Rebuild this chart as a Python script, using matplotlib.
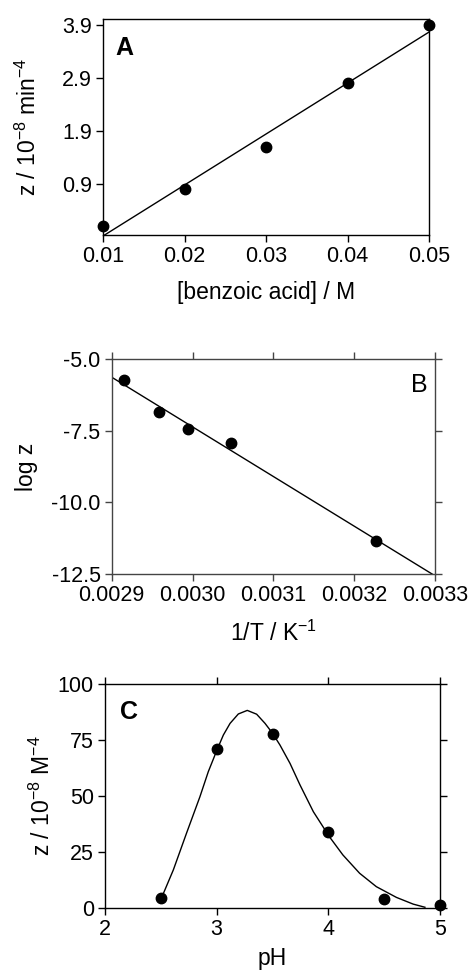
import numpy as np
import matplotlib
matplotlib.use("Agg")
import matplotlib.pyplot as plt
from matplotlib.ticker import FixedLocator, FormatStrFormatter

plt.rcParams['font.family'] = ['Liberation Sans', 'DejaVu Sans']
plt.rcParams['axes.unicode_minus'] = False
plt.rcParams['mathtext.fontset'] = 'custom'
plt.rcParams['mathtext.rm'] = 'Liberation Sans'
plt.rcParams['mathtext.default'] = 'regular'

# Panel A data
acid_conc = [0.01, 0.02, 0.03, 0.04, 0.05]
z_acid = [0.095, 0.79, 1.59, 2.80, 3.90]
a_xticks = [0.01, 0.02, 0.03, 0.04, 0.05]
a_yticks = [0.9, 1.9, 2.9, 3.9]

# Panel B data
inv_T = [0.0029156, 0.0029585, 0.002994, 0.003048, 0.003227]
log_z = [-5.73, -6.84, -7.44, -7.94, -11.33]
b_xticks = [0.0029, 0.0030, 0.0031, 0.0032, 0.0033]
b_yticks = [-5.0, -7.5, -10.0, -12.5]

# Panel C data
pH = [2.5, 3.0, 3.5, 4.0, 4.5, 5.0]
z_pH = [4.2, 70.8, 77.8, 33.8, 3.7, 1.0]
pH_curve = [2.508, 2.612, 2.73, 2.85, 2.925, 3.006, 3.06, 3.12, 3.194, 3.274,
            3.358, 3.433, 3.50, 3.567, 3.657, 3.746, 3.866, 4.01, 4.13, 4.28,
            4.43, 4.61, 4.76, 4.865]
z_curve = [4.6, 16.9, 33.3, 49.6, 60.8, 70.9, 77.2, 82.4, 86.6, 88.2,
           86.5, 82.4, 78.0, 72.7, 64.5, 54.9, 42.9, 31.7, 23.6, 15.4,
           9.4, 4.6, 1.6, 0.2]
c_xticks = [2, 3, 4, 5]
c_yticks = [0, 25, 50, 75, 100]

W, H = 470, 975
fig = plt.figure(figsize=(W / 100, H / 100), dpi=100)

def add_ax(l, r, t, b):
    return fig.add_axes([l / W, 1 - b / H, (r - l) / W, (b - t) / H])

TICK_FS = 15.5
LAB_FS = 16.5
MS = 7.5
LW = 1.0

def style(ax, color, right_top_ticks):
    for s in ax.spines.values():
        s.set_color(color)
        s.set_linewidth(1.0)
    ax.tick_params(direction='out', length=5, width=1.0, color=color,
                   labelsize=TICK_FS, pad=3)
    if right_top_ticks:
        ax.tick_params(top=True, right=True, labeltop=False, labelright=False)

# Panel A
axA = add_ax(103, 429, 19.3, 235)
axA.set_xlim(0.01, 0.05)
axA.set_ylim(-0.07, 4.0)
coefA = np.polyfit(acid_conc, z_acid, 1)
xl = np.array([0.01, 0.05])
axA.plot(xl, np.polyval(coefA, xl), color='black', lw=LW)
axA.plot(acid_conc, z_acid, 'o', color='black', ms=MS, clip_on=False, zorder=5)
axA.xaxis.set_major_locator(FixedLocator(a_xticks))
axA.yaxis.set_major_locator(FixedLocator(a_yticks))
axA.xaxis.set_major_formatter(FormatStrFormatter('%.2f'))
axA.yaxis.set_major_formatter(FormatStrFormatter('%.1f'))
style(axA, 'black', False)
axA.set_xlabel('[benzoic acid] / M', fontsize=LAB_FS, va='center')
axA.set_ylabel('z / 10$^{-8}$ min$^{-4}$', fontsize=LAB_FS, va='center')
axA.xaxis.set_label_coords(0.5, (235 - 292) / 215.7)
axA.yaxis.set_label_coords((28 - 103) / 326, 0.5)
axA.text(0.037, 0.865, 'A', transform=axA.transAxes, fontsize=18,
         fontweight='bold', ha='left', va='center')

# Panel B
axB = add_ax(111.7, 435, 359.3, 574)
axB.set_xlim(0.0029, 0.0033)
axB.set_ylim(-12.5, -5.0)
coefB = np.polyfit(inv_T, log_z, 1)
xl = np.array([0.0029, 0.0033])
axB.plot(xl, np.polyval(coefB, xl), color='black', lw=LW)
axB.plot(inv_T, log_z, 'o', color='black', ms=MS, clip_on=False, zorder=5)
axB.xaxis.set_major_locator(FixedLocator(b_xticks))
axB.yaxis.set_major_locator(FixedLocator(b_yticks))
axB.xaxis.set_major_formatter(FormatStrFormatter('%.4f'))
axB.yaxis.set_major_formatter(FormatStrFormatter('%.1f'))
style(axB, '#444444', True)
axB.set_xlabel('1/T / K$^{-1}$', fontsize=LAB_FS, va='center')
axB.set_ylabel('log z', fontsize=LAB_FS, va='center')
axB.xaxis.set_label_coords(0.5, (574 - 633) / 214.7)
axB.yaxis.set_label_coords((27 - 111.7) / 323.3, 0.5)
axB.text(0.978, 0.88, 'B', transform=axB.transAxes, fontsize=18,
         ha='right', va='center')

# Panel C
axC = add_ax(105, 440, 684, 907.7)
axC.set_xlim(2, 5)
axC.set_ylim(0, 100)
axC.plot(pH_curve, z_curve, color='black', lw=LW, solid_joinstyle='round')
axC.plot(pH, z_pH, 'o', color='black', ms=MS, clip_on=False, zorder=5)
axC.xaxis.set_major_locator(FixedLocator(c_xticks))
axC.yaxis.set_major_locator(FixedLocator(c_yticks))
style(axC, 'black', True)
axC.set_xlabel('pH', fontsize=LAB_FS, va='center')
axC.set_ylabel('z / 10$^{-8}$ M$^{-4}$', fontsize=LAB_FS, va='center')
axC.xaxis.set_label_coords(0.5, (907.7 - 958) / 223.7)
axC.yaxis.set_label_coords((42 - 105) / 335, 0.5)
axC.text(0.045, 0.876, 'C', transform=axC.transAxes, fontsize=18,
         fontweight='bold', ha='left', va='center')

fig.savefig('out.png', dpi=100)
